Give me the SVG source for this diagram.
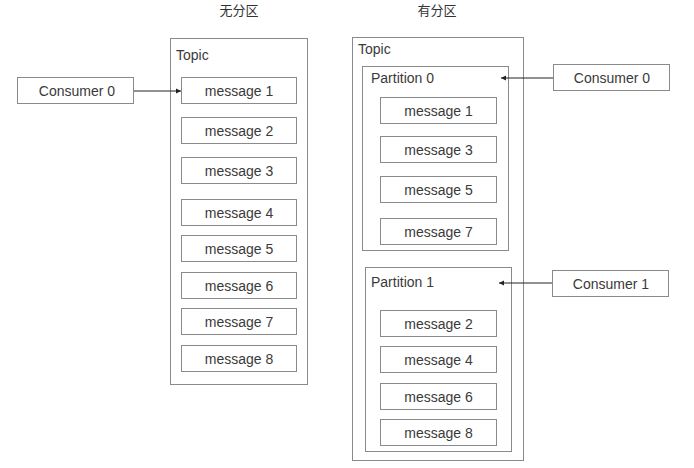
<svg xmlns="http://www.w3.org/2000/svg" width="694" height="468" viewBox="0 0 694 468">
<style>
.b{fill:#fff;stroke:#8a8a8a;stroke-width:1}
.t{font-family:"Liberation Sans",Arial,sans-serif;font-size:14px;fill:#3a3a3a}
.c{text-anchor:middle}
.h{font-family:"Noto Sans CJK SC",sans-serif;font-size:13px;fill:#333;text-anchor:middle}
.e{stroke:#222;stroke-width:1;fill:none}
</style>
<defs>
<marker id="ah" markerWidth="6" markerHeight="6" refX="5" refY="3" orient="auto" markerUnits="userSpaceOnUse">
<path d="M0,0.5 L5,3 L0,5.5 z" fill="#222"/>
</marker>
</defs>
<rect width="694" height="468" fill="#fff"/>
<text class="h" x="239" y="15">无分区</text>
<text class="h" x="437" y="15">有分区</text>
<g id="topicA">
<rect class="b" x="170.5" y="38.5" width="137" height="346"/>
<text class="t" x="176" y="60">Topic</text>
</g>
<g id="a1"><rect class="b" x="181.5" y="77.5" width="115" height="26"/><text class="t c" x="239" y="95.5">message 1</text></g>
<g id="a2"><rect class="b" x="181.5" y="117.5" width="115" height="26"/><text class="t c" x="239" y="135.5">message 2</text></g>
<g id="a3"><rect class="b" x="181.5" y="157.5" width="115" height="26"/><text class="t c" x="239" y="175.5">message 3</text></g>
<g id="a4"><rect class="b" x="181.5" y="199.5" width="115" height="26"/><text class="t c" x="239" y="217.5">message 4</text></g>
<g id="a5"><rect class="b" x="181.5" y="235.5" width="115" height="26"/><text class="t c" x="239" y="253.5">message 5</text></g>
<g id="a6"><rect class="b" x="181.5" y="272.5" width="115" height="26"/><text class="t c" x="239" y="290.5">message 6</text></g>
<g id="a7"><rect class="b" x="181.5" y="308.5" width="115" height="26"/><text class="t c" x="239" y="326.5">message 7</text></g>
<g id="a8"><rect class="b" x="181.5" y="345.5" width="115" height="26"/><text class="t c" x="239" y="363.5">message 8</text></g>
<g id="consA"><rect class="b" x="17.5" y="77.5" width="116" height="26"/><text class="t c" x="77" y="95.5">Consumer 0</text></g>
<g id="topicB">
<rect class="b" x="352.5" y="37.5" width="171" height="423"/>
<text class="t" x="358" y="53.5">Topic</text>
</g>
<g id="part0">
<rect class="b" x="362.5" y="66.5" width="146" height="184"/>
<text class="t" x="371" y="83">Partition 0</text>
</g>
<g id="b1"><rect class="b" x="380.5" y="97.5" width="116" height="26"/><text class="t c" x="438.5" y="115.5">message 1</text></g>
<g id="b3"><rect class="b" x="380.5" y="136.5" width="116" height="26"/><text class="t c" x="438.5" y="154.5">message 3</text></g>
<g id="b5"><rect class="b" x="380.5" y="176.5" width="116" height="26"/><text class="t c" x="438.5" y="194.5">message 5</text></g>
<g id="b7"><rect class="b" x="380.5" y="218.5" width="116" height="26"/><text class="t c" x="438.5" y="236.5">message 7</text></g>
<g id="part1">
<rect class="b" x="365.5" y="267.5" width="146" height="184"/>
<text class="t" x="371" y="287">Partition 1</text>
</g>
<g id="b2"><rect class="b" x="380.5" y="310.5" width="116" height="26"/><text class="t c" x="438.5" y="328.5">message 2</text></g>
<g id="b4"><rect class="b" x="380.5" y="346.5" width="116" height="26"/><text class="t c" x="438.5" y="364.5">message 4</text></g>
<g id="b6"><rect class="b" x="380.5" y="383.5" width="116" height="26"/><text class="t c" x="438.5" y="401.5">message 6</text></g>
<g id="b8"><rect class="b" x="380.5" y="419.5" width="116" height="26"/><text class="t c" x="438.5" y="437.5">message 8</text></g>
<g id="consB0"><rect class="b" x="553.5" y="64.5" width="116" height="26"/><text class="t c" x="612" y="82.5">Consumer 0</text></g>
<g id="consB1"><rect class="b" x="552.5" y="270.5" width="116" height="26"/><text class="t c" x="611" y="288.5">Consumer 1</text></g>
<g id="connectors">
<line class="e" x1="134" y1="91" x2="181" y2="91" marker-end="url(#ah)"/>
<line class="e" x1="553" y1="78" x2="501" y2="78" marker-end="url(#ah)"/>
<line class="e" x1="552" y1="283" x2="499" y2="283" marker-end="url(#ah)"/>
</g>
</svg>
